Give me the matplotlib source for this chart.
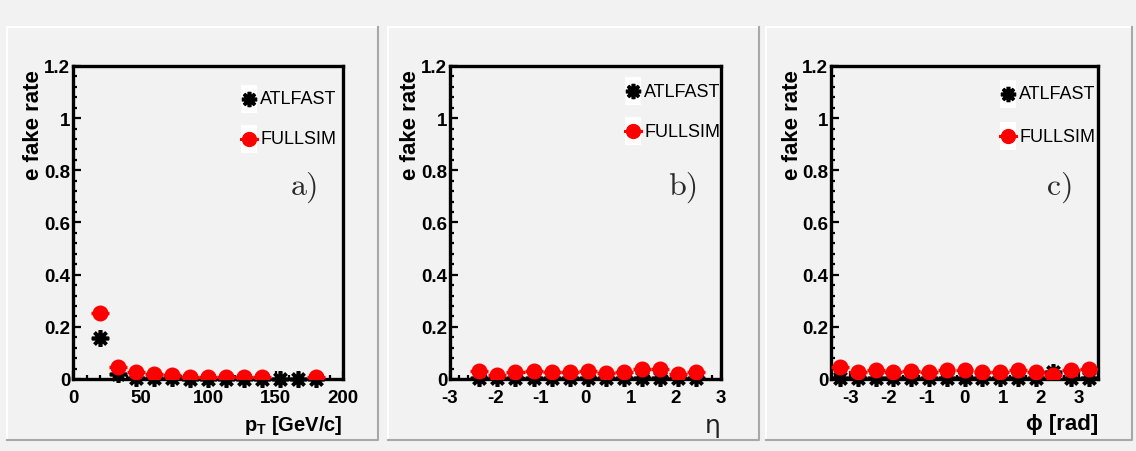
import matplotlib
matplotlib.use("Agg")
import numpy as np
import matplotlib.pyplot as plt
from matplotlib.lines import Line2D
from matplotlib.patches import Rectangle
from matplotlib.ticker import MultipleLocator, FixedLocator, FixedFormatter

W, H = 1136, 452
BG = "#f2f2f2"
SANS = ["Liberation Sans", "DejaVu Sans"]
plt.rcParams["mathtext.fontset"] = "custom"
plt.rcParams["mathtext.rm"] = "Liberation Sans"
plt.rcParams["mathtext.bf"] = "Liberation Sans:bold"

# --- panel a): fake rate vs pT ---
pt_centers = [20.0, 33.3, 46.7, 60.0, 73.3, 86.7, 100.0, 113.3, 126.7, 140.0, 153.3, 166.7, 180.0]
pt_halfwidth = 6.67
pt_atlfast = [0.157, 0.018, 0.004, 0.003, 0.002, 0.001, 0.001, 0.001, 0.001, 0.001, 0.0, 0.0, 0.0]
pt_fullsim = [0.253, 0.045, 0.025, 0.020, 0.015, 0.006, 0.006, 0.006, 0.006, 0.006, np.nan, np.nan, 0.006]

# --- panel b): fake rate vs eta ---
eta_centers = [-2.35, -1.95, -1.55, -1.15, -0.75, -0.35, 0.05, 0.45, 0.85, 1.25, 1.65, 2.05, 2.45]
eta_halfwidth = 0.2
eta_atlfast = [0.005, 0.004, 0.005, 0.005, 0.004, 0.005, 0.005, 0.004, 0.005, 0.005, 0.005, 0.004, 0.005]
eta_fullsim = [0.032, 0.015, 0.026, 0.032, 0.025, 0.026, 0.032, 0.023, 0.026, 0.037, 0.037, 0.019, 0.027]

# --- panel c): fake rate vs phi ---
phi_centers = [-3.27, -2.80, -2.33, -1.87, -1.40, -0.93, -0.47, 0.0,
               0.47, 0.93, 1.40, 1.87, 2.33, 2.80, 3.27]
phi_halfwidth = 0.233
phi_atlfast = [0.005, 0.004, 0.005, 0.004, 0.005, 0.004, 0.005, 0.005,
               0.004, 0.005, 0.005, 0.004, 0.028, 0.005, 0.005]
phi_fullsim = [0.045, 0.026, 0.034, 0.026, 0.032, 0.026, 0.034, 0.034,
               0.028, 0.028, 0.034, 0.028, 0.015, 0.034, 0.039]

y_ticks = [0, 0.2, 0.4, 0.6, 0.8, 1.0, 1.2]
y_ticklabels = ["0", "0.2", "0.4", "0.6", "0.8", "1", "1.2"]

STAR = (8, 2, 0)  # ROOT marker 3 look-alike


def fx(px):
    return px / W


def fy(py):
    return 1 - py / H


def draw_frame(fig, x0, x1, y0, y1):
    # bevelled pad border, light top/left, dark bottom/right
    fig.add_artist(Line2D([fx(x0), fx(x0), fx(x1)], [fy(y1), fy(y0), fy(y0)],
                          color="white", lw=1.5, transform=fig.transFigure))
    fig.add_artist(Line2D([fx(x0), fx(x1), fx(x1)], [fy(y1), fy(y1), fy(y0)],
                          color="#a8a8a8", lw=1.5, transform=fig.transFigure))


def draw_legend(ax, lx, ly1, ly2):
    for ly, kind, label in [(ly1, "atl", "ATLFAST"), (ly2, "full", "FULLSIM")]:
        ax.add_patch(Rectangle((lx - 0.03, ly - 0.045), 0.06, 0.09, transform=ax.transAxes,
                               facecolor="white", edgecolor="none", zorder=5))
        if kind == "atl":
            ax.plot([lx], [ly], marker=STAR, ms=11, mew=2.6, color="black",
                    transform=ax.transAxes, zorder=6)
        else:
            ax.plot([lx - 0.03, lx + 0.03], [ly, ly], color="red", lw=2.2,
                    transform=ax.transAxes, zorder=6)
            ax.plot([lx], [ly], marker="o", ms=10, color="red", mec="red",
                    transform=ax.transAxes, zorder=6)
        ax.text(lx + 0.042, ly, label, transform=ax.transAxes, ha="left", va="center",
                fontsize=13, family=SANS, zorder=6)


def draw_panel(ax, x, hw, atl, full, xlim, major, minor, xticklabels, xlabel,
               xlabel_kw, tag, legend_pos):
    ax.set_facecolor(BG)
    ax.errorbar(x, atl, xerr=hw, fmt="none", ecolor="black", elinewidth=2.4, zorder=2)
    ax.plot(x, atl, ls="none", marker=STAR, ms=12, mew=2.6, color="black",
            zorder=3, clip_on=False)
    ax.errorbar(x, full, xerr=hw, fmt="o", color="red", ms=10.5, mec="red",
                ecolor="red", elinewidth=2.4, zorder=4)
    ax.set_xlim(*xlim)
    ax.set_ylim(0, 1.2)

    ax.yaxis.set_major_locator(FixedLocator(y_ticks))
    ax.yaxis.set_major_formatter(FixedFormatter(y_ticklabels))
    ax.yaxis.set_minor_locator(MultipleLocator(0.04))
    ax.xaxis.set_major_locator(FixedLocator(major))
    ax.xaxis.set_major_formatter(FixedFormatter(xticklabels))
    ax.xaxis.set_minor_locator(MultipleLocator(minor))

    ax.tick_params(which="both", direction="in", top=False, right=False, width=1.6)
    ax.tick_params(which="major", length=6)
    ax.tick_params(which="minor", length=3)
    ax.tick_params(axis="y", pad=2)
    ax.tick_params(axis="x", pad=7)
    for lab in ax.get_xticklabels() + ax.get_yticklabels():
        lab.set_fontfamily(SANS)
        lab.set_fontweight("bold")
        lab.set_fontsize(13.5)
    for sp in ax.spines.values():
        sp.set_linewidth(2.4)

    ax.text(-0.145, 0.99, "e fake rate", transform=ax.transAxes, rotation=90,
            ha="center", va="top", fontsize=16, fontweight="bold", family=SANS)
    ax.text(1.0, -0.11, xlabel, transform=ax.transAxes, ha="right", va="top", **xlabel_kw)
    ax.text(0.86, 0.615, tag, transform=ax.transAxes, ha="center", va="center",
            fontsize=23, color="#2a2a2a", family=["cmr10", "DejaVu Serif"])
    draw_legend(ax, *legend_pos)


fig = plt.figure(figsize=(W / 100, H / 100), dpi=100, facecolor=BG)

draw_frame(fig, 7, 378, 28, 441)
draw_frame(fig, 388, 759, 28, 441)
draw_frame(fig, 766, 1132, 28, 441)

ax_a = fig.add_axes([fx(73), fy(380), (343 - 73) / W, (380 - 67) / H])
ax_b = fig.add_axes([fx(450), fy(380), (721 - 450) / W, (380 - 67) / H])
ax_c = fig.add_axes([fx(831), fy(380), (1098 - 831) / W, (380 - 67) / H])

draw_panel(ax_a, pt_centers, pt_halfwidth, pt_atlfast, pt_fullsim, (0, 200),
           [0, 50, 100, 150, 200], 10, ["0", "50", "100", "150", "200"],
           r"p$_\mathbf{T}$ [GeV/c]",
           dict(fontsize=14.5, fontweight="bold", family=SANS),
           "a)", (0.652, 0.895, 0.767))

draw_panel(ax_b, eta_centers, eta_halfwidth, eta_atlfast, eta_fullsim, (-3, 3),
           [-3, -2, -1, 0, 1, 2, 3], 0.2, ["-3", "-2", "-1", "0", "1", "2", "3"],
           "η",
           dict(fontsize=18, color="#222222", family=["DejaVu Sans"]),
           "b)", (0.675, 0.920, 0.792))

draw_panel(ax_c, phi_centers, phi_halfwidth, phi_atlfast, phi_fullsim, (-3.5, 3.5),
           [-3, -2, -1, 0, 1, 2, 3], 0.2, ["-3", "-2", "-1", "0", "1", "2", "3"],
           "ϕ [rad]",
           dict(fontsize=16, fontweight="bold", family=SANS),
           "c)", (0.663, 0.911, 0.776))

fig.savefig("out.png", dpi=100, facecolor=BG)
